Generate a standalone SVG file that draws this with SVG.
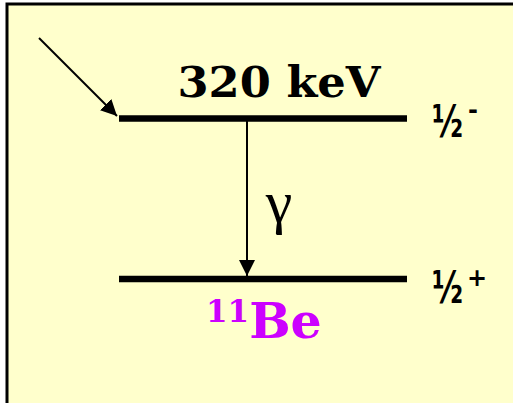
<svg xmlns="http://www.w3.org/2000/svg" width="513" height="403" viewBox="0 0 513 403">
<style>
.level{stroke:#000;stroke-width:6.5;fill:none}
.conn{stroke:#000;stroke-width:2;fill:none}
.energy{font-family:"DejaVu Serif","Liberation Serif",serif;font-weight:bold;fill:#000}
.spin{font-family:"DejaVu Sans","Liberation Sans",sans-serif;font-weight:bold;fill:#000}
.nuc{font-family:"DejaVu Serif","Liberation Serif",serif;font-weight:bold;fill:#CC00FF}
.gamma{font-family:"Liberation Serif","DejaVu Serif",serif;fill:#000}
</style>
<defs>
<marker id="ah" viewBox="0 0 16 16" refX="16" refY="8" markerWidth="16" markerHeight="16" markerUnits="userSpaceOnUse" orient="auto">
<path d="M0,0 L16,8 L0,16 z" fill="#000"/>
</marker>
</defs>
<rect x="0" y="0" width="513" height="403" fill="#FFFFFF"/>
<rect x="7" y="4" width="506" height="399" fill="#FFFFCC"/>
<path d="M7,403 V4 H513" fill="none" stroke="#000" stroke-width="3"/>
<g id="level-excited">
<line class="level" x1="119" y1="118.5" x2="407" y2="118.5"/>
<text class="energy" x="279" y="97" font-size="43" text-anchor="middle" textLength="203" lengthAdjust="spacingAndGlyphs">320 keV</text>
<text class="spin" transform="translate(432,137) scale(0.68,1)" x="0" y="0" font-size="44">½</text>
<text class="spin" x="468" y="118" font-size="24">-</text>
</g>
<g id="level-ground">
<line class="level" x1="119" y1="279" x2="407" y2="279"/>
<text class="spin" transform="translate(432,303) scale(0.68,1)" x="0" y="0" font-size="44">½</text>
<text class="spin" x="467" y="286" font-size="24">+</text>
<text class="nuc" x="206" y="338" font-size="49"><tspan font-size="31" dy="-16">11</tspan><tspan dy="16">Be</tspan></text>
</g>
<g id="connectors">
<line class="conn" x1="39" y1="38" x2="117" y2="116" marker-end="url(#ah)"/>
<line class="conn" x1="247" y1="121" x2="247" y2="276" marker-end="url(#ah)"/>
<text class="gamma" x="279" y="222" font-size="60" text-anchor="middle">γ</text>
</g>
</svg>
